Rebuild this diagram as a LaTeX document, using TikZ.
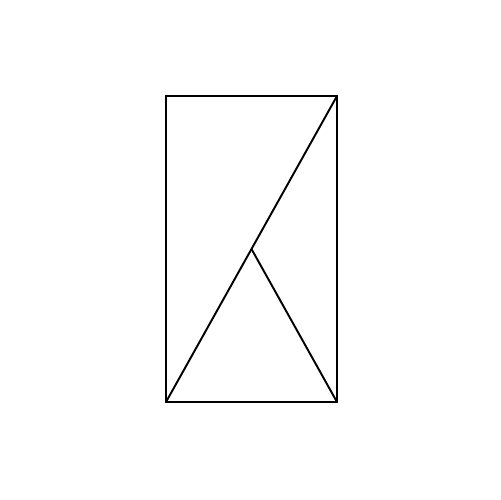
\documentclass[tikz,border=0pt]{standalone}
\usetikzlibrary{calc}
\begin{document}
\begin{tikzpicture}[x=0.02cm,y=-0.02cm,edge/.style={draw=black,line width=1.1pt,line join=miter}]
\useasboundingbox (0,0) rectangle (500,500);
\coordinate (A) at (166,402);
\coordinate (B) at (337,402);
\coordinate (C) at (337,96);
\coordinate (D) at (166,96);
\coordinate (M) at ($(A)!0.5!(C)$);
\draw[edge] (A) -- (B) -- (C) -- (D) -- cycle;
\draw[edge] (A) -- (C);
\draw[edge] (M) -- (B);
\end{tikzpicture}
\end{document}
